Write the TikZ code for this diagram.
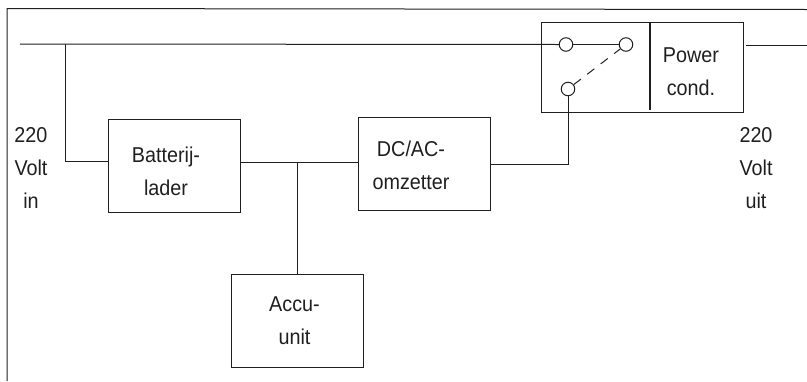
\documentclass[tikz,border=0pt]{standalone}
\usepackage{fontspec}
\setmainfont[FakeStretch=0.92]{Liberation Sans}
\definecolor{ink}{gray}{0.12}
\tikzset{
  wire/.style={draw=ink,line width=1pt},
  blockbox/.style={draw=ink,line width=1pt,minimum width=132pt,minimum height=93pt,inner sep=0pt,anchor=north west},
  contact/.style={circle,draw=ink,line width=1pt,minimum size=13.5pt,inner sep=0pt},
  caption/.style={align=center,inner sep=0pt,font=\fontsize{21.5}{33}\selectfont,text=ink}
}
\begin{document}
\begin{tikzpicture}[x=1pt,y=-1pt]
\useasboundingbox (0,0) rectangle (807,381);
% frame
\coordinate (fa) at (7,381);
\coordinate (fb) at (7,8.5);
\coordinate (fc) at (807,9.5);
\draw[wire] (fa) -- (fb) -- (fc);
% blocks
\node[blockbox] (bat) at (108,119) {};
\node[blockbox] (dc) at (358,117) {};
\node[blockbox] (acc) at (231,273.5) {};
\node[blockbox,minimum width=202pt,minimum height=90pt] (sw) at (541,22) {};
% contacts
\node[contact] (c1) at (566,44.5) {};
\node[contact] (c2) at (626,44.5) {};
\node[contact] (c3) at (568,89) {};
% free ends
\coordinate (in) at (20,44);
\coordinate (j1) at (65,44);
\coordinate (j2) at (297.5,162);
\coordinate (lvl) at (65,161.5);
\coordinate (outa) at (746,45.5);
\coordinate (outb) at (807,45.5);
\coordinate (da) at (650,22);
\coordinate (db) at (650,110);
% connectors
\draw[wire] (in) -- (c1.west);
\draw[wire] (c1) -- (c2);
\draw[wire] (j1) -- (lvl) -- (bat.west |- lvl);
\draw[wire] (bat.east |- j2) -- (dc.west |- j2);
\draw[wire] (j2) -- (acc.north -| j2);
\draw[wire] (c3) |- (dc.east);
\draw[wire] (outa) -- (outb);
\draw[draw=ink,line width=1pt,dash pattern=on 9pt off 8pt] (c3) -- (c2);
\draw[draw=ink,line width=2.6pt] (da) -- (db);
% texts
\node[caption] (t1) at (31,167.5) {220\\Volt\\in};
\node[caption] (t2) at (756,168.5) {220\\Volt\\uit};
\node[caption] (t3) at (166,171.5) {Batterij-\\lader};
\node[caption] (t4) at (411,165) {DC/AC-\\omzetter};
\node[caption] (t5) at (294.5,321) {Accu-\\unit};
\node[caption] (t6) at (691,71.5) {Power\\cond.};
\end{tikzpicture}
\end{document}
